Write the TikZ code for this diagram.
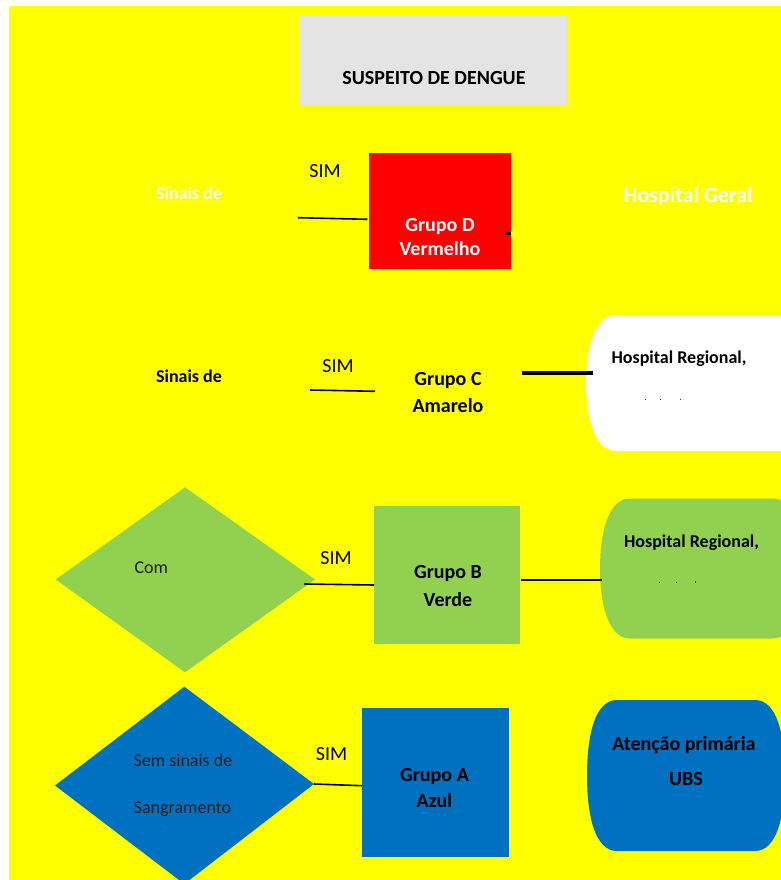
\documentclass[tikz,border=0pt]{standalone}
\usepackage{fontspec}
\setmainfont{Carlito}
\definecolor{ybg}{HTML}{FFFF00}
\definecolor{gbox}{HTML}{E4E4E4}
\definecolor{rbox}{HTML}{FF0000}
\definecolor{grn}{HTML}{92D050}
\definecolor{blu}{HTML}{0070C0}
\newcommand{\hospshape}[5]{%
  \fill[#1] (#2+30,#3) -- (#4-30,#3)
    .. controls (#4-8,#3) and (#4,#3+35) .. (#4,{(#3+#5)/2})
    .. controls (#4,#5-35) and (#4-8,#5) .. (#4-30,#5)
    -- (#2+30,#5)
    .. controls (#2+8,#5) and (#2,#5-35) .. (#2,{(#3+#5)/2})
    .. controls (#2,#3+35) and (#2+8,#3) .. (#2+30,#3) -- cycle;}
\begin{document}
\begin{tikzpicture}[x=1pt,y=-1pt,
  box/.style={rectangle, draw=none, inner sep=0pt, outer sep=0pt},
  txt/.style={anchor=base, inner sep=0pt, outer sep=0pt},
  btxt/.style={txt, font=\fontsize{20}{24}\selectfont\bfseries},
  stxt/.style={txt, font=\fontsize{20}{24}\selectfont},
  mtxt/.style={txt, font=\fontsize{18}{22}\selectfont},
  mbtxt/.style={txt, font=\fontsize{18}{22}\selectfont\bfseries},
  conn/.style={draw=black, line width=1.6pt},
  speck/.style={fill=black!80}]
\useasboundingbox (0,0) rectangle (781,880);
\fill[white] (0,0) rectangle (781,880);
\fill[ybg] (9,6) rectangle (781,880);
\begin{scope}
\clip (9,6) rectangle (781,880);

% title
\node[box, fill=gbox, minimum width=267pt, minimum height=89pt] (title) at (433.5,60.5) {};
\node[txt, font=\fontsize{20}{24}\selectfont\bfseries] (titletxt) at (434,85) {SUSPEITO DE DENGUE};

% ---- Row D ----
\node[mbtxt, text=white] (qD) at (189,199) {Sinais de};
\node[stxt] (simD) at (325,177) {SIM};
\coordinate (qDout) at (298,217.7);
\node[box, fill=rbox, minimum width=142pt, minimum height=116pt] (gD) at (440,211) {};
\coordinate (gDin) at (367.3,219.3);
\draw[conn] (qDout) -- (gDin);
\node[btxt, text=white] (gDt1) at (440,231) {Grupo D};
\node[btxt, text=white] (gDt2) at (440,255) {Vermelho};
\coordinate (stubA) at (506,233);
\coordinate (stubB) at (511,233);
\draw[line width=3pt] (stubA) -- (stubB);
\node[txt, text=white, font=\fontsize{22}{26}\selectfont\bfseries] (hospG) at (688,202) {Hospital Geral};

% ---- Row C ----
\node[mbtxt] (qC) at (189,382) {Sinais de};
\node[stxt] (simC) at (338,372) {SIM};
\coordinate (qCout) at (310,390);
\coordinate (gCin) at (375,391.3);
\draw[conn] (qCout) -- (gCin);
\node[btxt] (gCt1) at (448,385) {Grupo C};
\node[btxt] (gCt2) at (448,412) {Amarelo};
\hospshape{white}{586}{315}{815}{451}
\coordinate (gCout) at (521.7,372.7);
\coordinate (hospCin) at (593,372.7);
\draw[line width=4pt] (gCout) -- (hospCin);
\node[mbtxt] (hospC) at (679,363) {Hospital Regional,};
\fill[speck] (644.5,398.5) rectangle (645.7,399.7);
\fill[speck] (659.5,398.5) rectangle (660.7,399.7);
\fill[speck] (680,398.5) rectangle (681.2,399.7);

% ---- Row B ----
\coordinate (dBt) at (185,487.3);
\coordinate (dBl) at (55.7,579.5);
\coordinate (dBr) at (315,579.5);
\coordinate (dBb) at (185,672.3);
\fill[grn] (dBt) -- (dBr) -- (dBb) -- (dBl) -- cycle;
\node[mtxt, text=black!88] (qB) at (151.3,573) {Com};
\node[stxt] (simB) at (336,564) {SIM};
\coordinate (qBout) at (304.3,584);
\node[box, fill=grn, minimum width=146pt, minimum height=138pt] (gB) at (447,575) {};
\draw[conn] (qBout) -- (gB.west |- 0,585);
\node[btxt] (gBt1) at (448,578) {Grupo B};
\node[btxt] (gBt2) at (448,606) {Verde};
\hospshape{grn}{600}{498.5}{803}{638.5}
\coordinate (gBout) at (521,580);
\coordinate (hospBin) at (601.5,580);
\draw[conn] (gBout) -- (hospBin);
\node[mbtxt] (hospB) at (691.5,547) {Hospital Regional,};
\fill[speck] (658.5,582) rectangle (659.7,583.2);
\fill[speck] (676,582) rectangle (677.2,583.2);
\fill[speck] (694.5,581) rectangle (695.7,583.2);

% ---- Row A ----
\coordinate (dAt) at (184.3,686.7);
\coordinate (dAl) at (55,785.5);
\coordinate (dAr) at (314,784);
\coordinate (dAb) at (184.3,884);
\fill[blu] (dAt) -- (dAr) -- (dAb) -- (dAl) -- cycle;
\node[mtxt, text=black!88] (qA1) at (183,766) {Sem sinais de};
\node[mtxt, text=black!88] (qA2) at (182.5,813) {Sangramento};
\fill[speck] (166.5,823.5) rectangle (167.7,825);
\node[stxt] (simA) at (331.5,760) {SIM};
\node[box, fill=blu, minimum width=147pt, minimum height=148.5pt] (gA) at (435.5,782.5) {};
\coordinate (gAin) at (362,785.7);
\draw[conn] (dAr) -- (gAin);
\node[btxt] (gAt1) at (434.5,781) {Grupo A};
\node[btxt] (gAt2) at (434.5,807) {Azul};
\hospshape{blu}{587}{700}{785}{851}
\node[btxt] (ubs1) at (684,750) {Atenção primária};
\node[btxt] (ubs2) at (686,785) {UBS};
\end{scope}
\end{tikzpicture}
\end{document}
